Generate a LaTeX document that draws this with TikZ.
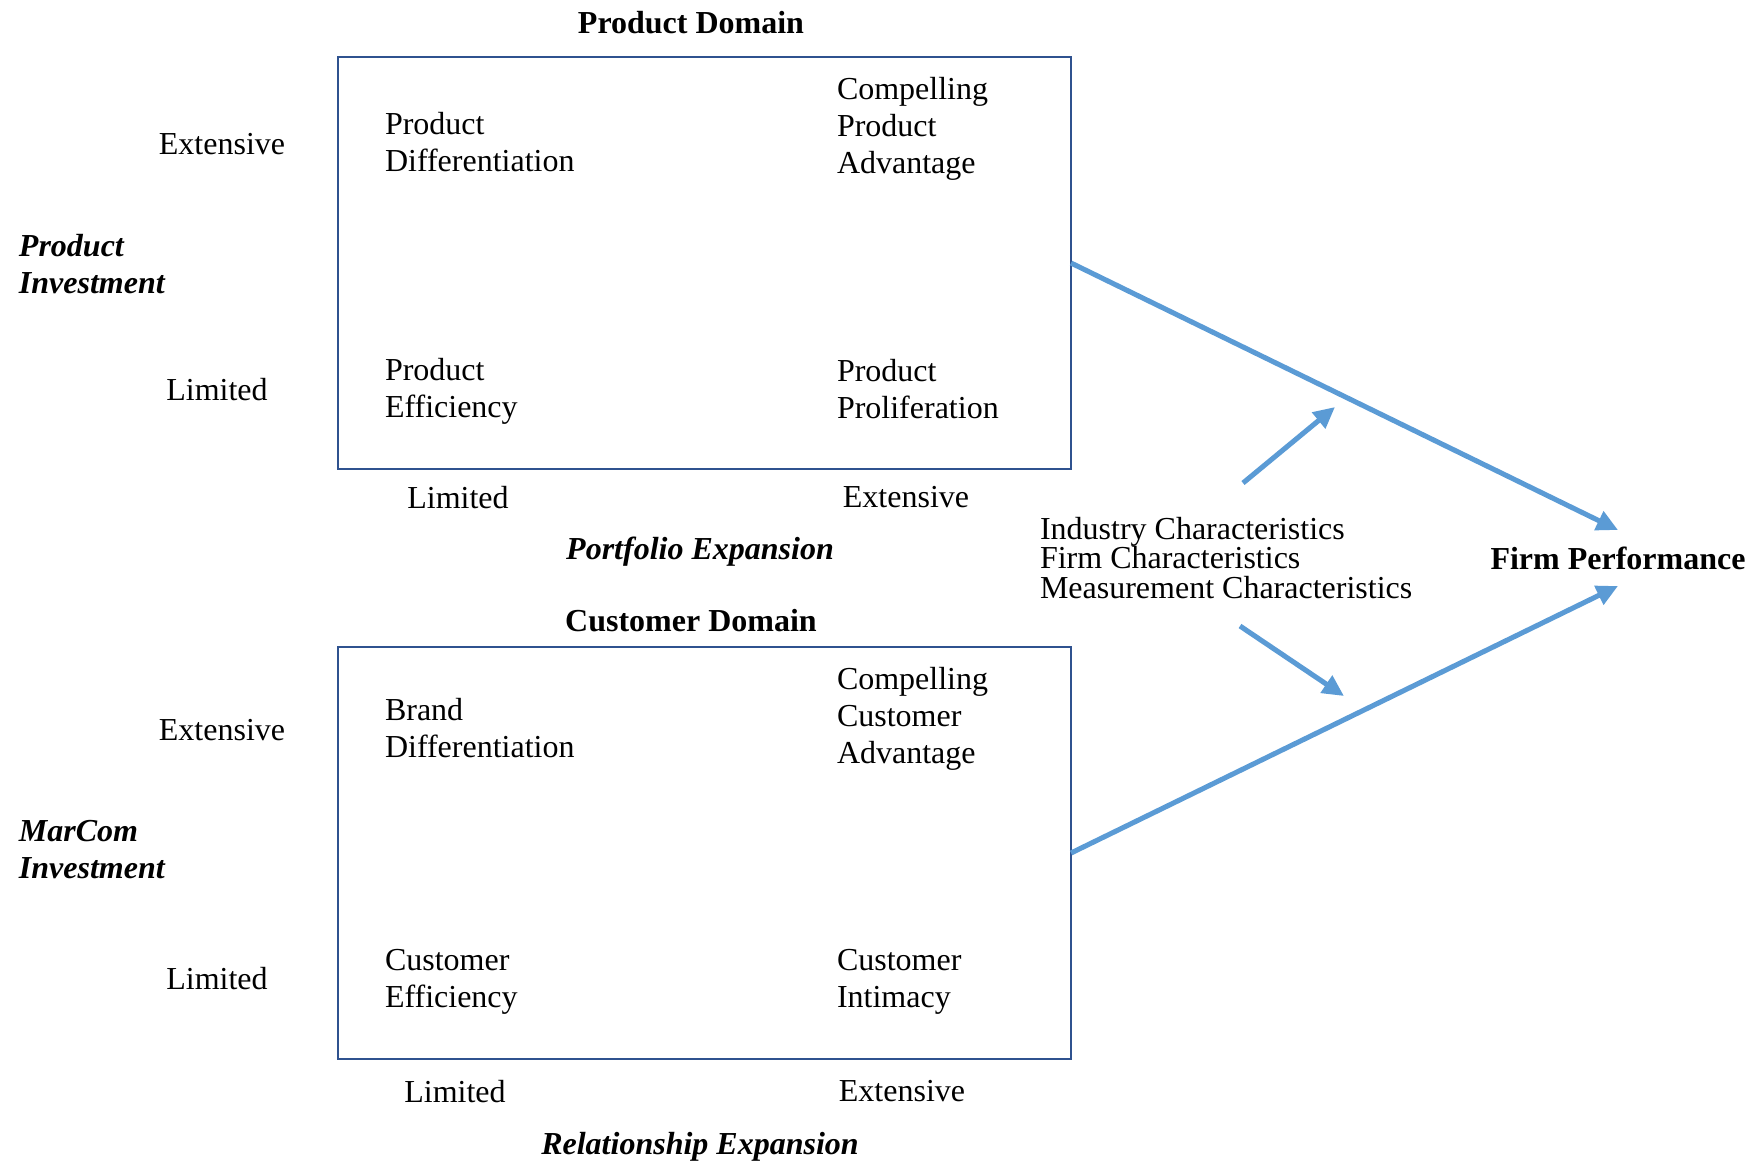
\documentclass[tikz,border=0pt]{standalone}
\usepackage{fontspec}
\setmainfont{Liberation Serif}
\usetikzlibrary{arrows.meta}
\definecolor{boxblue}{HTML}{2F528F}
\definecolor{arrowblue}{HTML}{5B9BD5}
\begin{document}
\begin{tikzpicture}[x=0.375pt, y=-0.375pt,
  every node/.style={inner sep=0pt, outer sep=0pt, font=\fontsize{12}{13.9}\selectfont},
  quad/.style={draw=boxblue, line width=0.8pt, minimum width=274.9pt, minimum height=154.5pt},
  cell/.style={anchor=west, align=left},
  axislbl/.style={anchor=center},
  title/.style={anchor=center, font=\fontsize{12}{13.9}\selectfont\bfseries},
  dimlbl/.style={anchor=west, align=left, font=\fontsize{12}{13.9}\selectfont\bfseries\itshape},
  flow/.style={draw=arrowblue, line width=1.9pt, -{Triangle[length=8pt, width=7.5pt]}}
]
\useasboundingbox (0,0) rectangle (1761,1163);

% ---- Product domain ----
\node[title] (pdom) at (691,23) {Product Domain};
\node[quad] (pbox) at (704.5,263) {};
\node[cell] (pdiff) at (385,142.5) {Product\\Differentiation};
\node[cell] (pcpa) at (837,128.5) {Compelling\\Product\\Advantage};
\node[cell] (peff) at (385,391.5) {Product\\Efficiency};
\node[cell] (pprol) at (837,389) {Product\\Proliferation};
\node[axislbl] (pext) at (222,144) {Extensive};
\node[axislbl] (plim) at (217,390) {Limited};
\node[dimlbl] (pinv) at (19,264.5) {Product\\Investment};
\node[axislbl] (pxlim) at (458,498) {Limited};
\node[axislbl] (pxext) at (906,497) {Extensive};
\node[title, font=\fontsize{12}{13.9}\selectfont\bfseries\itshape] (pexp) at (700,552) {Portfolio Expansion};

% ---- Customer domain ----
\node[title] (cdom) at (691,621) {Customer Domain};
\node[quad] (cbox) at (704.5,853) {};
\node[cell] (bdiff) at (385,728.5) {Brand\\Differentiation};
\node[cell] (ccca) at (837,718.5) {Compelling\\Customer\\Advantage};
\node[cell] (ceff) at (385,982) {Customer\\Efficiency};
\node[cell] (cint) at (837,982) {Customer\\Intimacy};
\node[axislbl] (cext) at (222,730) {Extensive};
\node[axislbl] (clim) at (217,979) {Limited};
\node[dimlbl] (cinv) at (19,849.5) {MarCom\\Investment};
\node[axislbl] (cxlim) at (455,1092) {Limited};
\node[axislbl] (cxext) at (902,1091) {Extensive};
\node[title, font=\fontsize{12}{13.9}\selectfont\bfseries\itshape] (cexp) at (700,1147) {Relationship Expansion};

% ---- Moderators and outcome ----
\node[anchor=west, align=left, font=\fontsize{12}{11.1}\selectfont] (chars) at (1040,558)
  {Industry Characteristics\\Firm Characteristics\\Measurement Characteristics};
\node[title, minimum height=21pt] (fp) at (1618,558) {Firm Performance};

\coordinate (upfrom) at (1243,483);
\coordinate (upto) at (1335,407);
\coordinate (downfrom) at (1240,626);
\coordinate (downto) at (1344,696);

% ---- Connectors ----
\draw[flow] (pbox.east) -- (fp.north);
\draw[flow] (cbox.east) -- (fp.south);
\draw[flow] (upfrom) -- (upto);
\draw[flow] (downfrom) -- (downto);
\end{tikzpicture}
\end{document}
